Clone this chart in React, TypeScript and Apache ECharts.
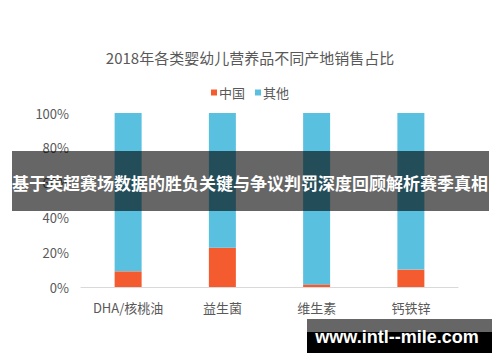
import React, { useEffect, useRef } from "react";
import * as echarts from "echarts";

const titleText = "2018年各类婴幼儿营养品不同产地销售占比";
const categories = ["DHA/核桃油", "益生菌", "维生素", "钙铁锌"];
const seriesNames = ["中国", "其他"];
const chinaShare = [9, 22.5, 1.5, 10];
const otherShare = [91, 77.5, 98.5, 90];
const bannerText = "基于英超赛场数据的胜负关键与争议判罚深度回顾解析赛季真相";
const watermarkText = "www.intl--mile.com";

const FONT = "'Noto Sans CJK SC', 'Noto Sans', sans-serif";

export default function App() {
  const ref = useRef<HTMLDivElement>(null);
  useEffect(() => {
    if (!ref.current) return;
    const chart = echarts.init(ref.current, undefined, { renderer: "svg" });
    chart.setOption({
      animation: false,
      backgroundColor: "#ffffff",
      textStyle: { fontFamily: FONT },
      title: {
        text: titleText,
        left: "center",
        top: 45,
        textStyle: { fontSize: 15, fontWeight: "normal", color: "#595959", fontFamily: FONT },
      },
      legend: {
        data: seriesNames,
        left: "center",
        top: 81,
        icon: "rect",
        itemWidth: 6,
        itemHeight: 6,
        itemGap: 10,
        textStyle: { fontSize: 13, color: "#595959", fontFamily: FONT, padding: [0, 0, 0, -3] },
      },
      grid: { left: 81, right: 42, top: 113, bottom: 75, containLabel: false },
      xAxis: {
        type: "category",
        data: categories,
        axisLine: { show: true, lineStyle: { color: "#d9d9d9", width: 1 } },
        axisTick: { show: false },
        axisLabel: { color: "#595959", fontSize: 13, margin: 14, fontFamily: FONT },
      },
      yAxis: {
        type: "value",
        min: 0,
        max: 100,
        interval: 20,
        axisLine: { show: false },
        axisTick: { show: false },
        splitLine: { show: false },
        axisLabel: { formatter: "{value}%", color: "#595959", fontSize: 13, margin: 12, fontFamily: FONT },
      },
      series: [
        {
          name: seriesNames[0],
          type: "bar",
          stack: "total",
          data: chinaShare,
          barWidth: 27,
          itemStyle: { color: "#f45b2e" },
        },
        {
          name: seriesNames[1],
          type: "bar",
          stack: "total",
          data: otherShare,
          barWidth: 27,
          itemStyle: { color: "#5ac0e0" },
        },
      ],
      graphic: [
        {
          type: "rect",
          z: 100,
          shape: { x: 12, y: 151, width: 477, height: 60 },
          style: { fill: "rgba(0,0,0,0.6)" },
        },
        {
          type: "text",
          z: 101,
          x: 250,
          y: 182,
          style: {
            text: bannerText,
            fill: "#ffffff",
            fontSize: 17,
            fontWeight: "bold",
            fontFamily: FONT,
            textAlign: "center",
            textVerticalAlign: "middle",
          },
        },
        {
          type: "rect",
          z: 100,
          shape: { x: 307, y: 319, width: 185, height: 13 },
          style: { fill: "#666666" },
        },
        {
          type: "rect",
          z: 100,
          shape: { x: 307, y: 332, width: 185, height: 21 },
          style: { fill: "#000000" },
        },
        {
          type: "text",
          z: 101,
          x: 397,
          y: 337,
          style: {
            text: watermarkText,
            fill: "#ffffff",
            fontSize: 18,
            fontWeight: "bold",
            fontFamily: "'Liberation Sans', Arial, sans-serif",
            textAlign: "center",
            textVerticalAlign: "middle",
          },
        },
      ],
    });
    return () => chart.dispose();
  }, []);
  return (
    <div
      ref={ref}
      style={{ position: "fixed", left: 0, top: 0, width: 500, height: 362 }}
    />
  );
}
